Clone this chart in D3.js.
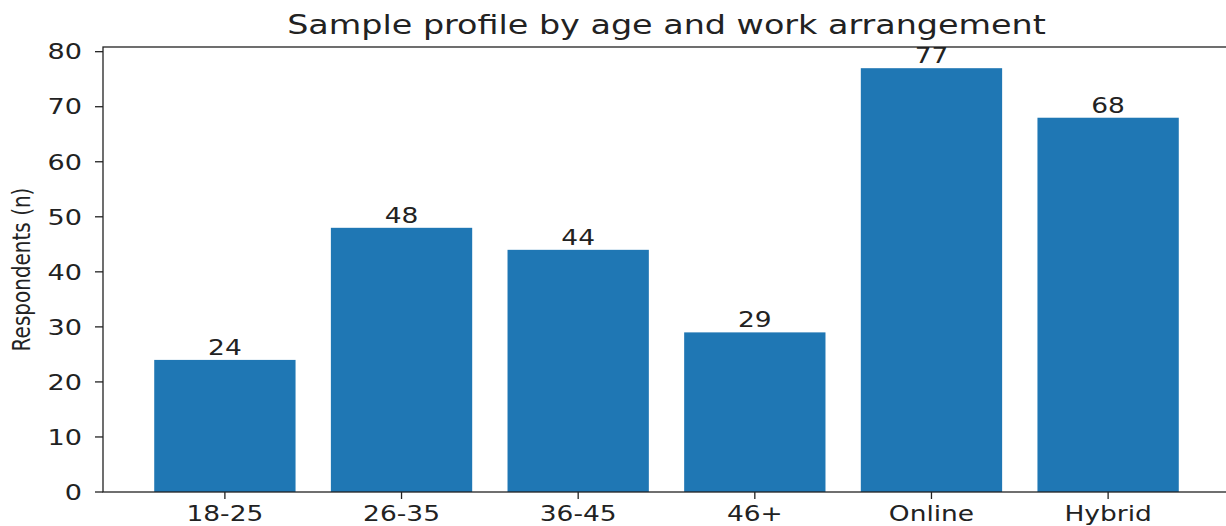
<!DOCTYPE html>
<html>
<head>
<meta charset="utf-8">
<script src="https://cdn.jsdelivr.net/npm/d3@7"></script>
<style>
  body { margin: 0; background: #fff; }
  svg { display: block; }
  text { font-family: "DejaVu Sans", sans-serif; fill: #222; }
</style>
</head>
<body>
<script>
// data
var categories = ["18-25", "26-35", "36-45", "46+", "Online", "Hybrid"];
var counts = [24, 48, 44, 29, 77, 68];
var yTicks = [0, 10, 20, 30, 40, 50, 60, 70, 80];
var title = "Sample profile by age and work arrangement";
var yLabel = "Respondents (n)";

function init() {
    var w = 1226;
    var h = 526;
    var sx = 1.26; // the picture is stretched sideways
    var left = 103, right = 1230, top = 47, bottom = 492;

    var svg = d3.select("body")
        .append("svg")
        .attr("width", w)
        .attr("height", h);

    var x = d3.scaleBand()
        .domain(categories)
        .range([left, right])
        .paddingInner(0.2)
        .paddingOuter(0.29);

    var y = d3.scaleLinear()
        .domain([0, d3.max(counts) * 1.05])
        .range([bottom, top]);

    // bars
    svg.selectAll("rect.bar")
        .data(counts)
        .enter()
        .append("rect")
        .attr("class", "bar")
        .attr("x", (d, i) => x(categories[i]))
        .attr("width", x.bandwidth())
        .attr("y", d => y(d))
        .attr("height", d => y(0) - y(d))
        .attr("fill", "#1f77b4");

    // value labels
    svg.selectAll("text.val")
        .data(counts)
        .enter()
        .append("text")
        .attr("class", "val")
        .attr("text-anchor", "middle")
        .attr("font-size", 21)
        .attr("transform", (d, i) => "translate(" + (x(categories[i]) + x.bandwidth() / 2) + "," + (y(d) - 5) + ") scale(" + sx + ",1)")
        .text(d => d);

    // spines
    svg.append("rect")
        .attr("x", left)
        .attr("y", top)
        .attr("width", right - left)
        .attr("height", bottom - top)
        .attr("fill", "none")
        .attr("stroke", "#222")
        .attr("stroke-width", 1.3);

    // y axis ticks
    var yt = svg.selectAll("g.ytick")
        .data(yTicks)
        .enter()
        .append("g")
        .attr("class", "ytick")
        .attr("transform", d => "translate(" + left + "," + y(d) + ")");
    yt.append("line")
        .attr("x1", -8)
        .attr("x2", 0)
        .attr("stroke", "#222")
        .attr("stroke-width", 1.3);
    yt.append("text")
        .attr("text-anchor", "end")
        .attr("font-size", 21.5)
        .attr("dy", "0.36em")
        .attr("transform", "translate(-21,0) scale(" + sx + ",1)")
        .text(d => d);

    // x axis ticks
    var xt = svg.selectAll("g.xtick")
        .data(categories)
        .enter()
        .append("g")
        .attr("class", "xtick")
        .attr("transform", d => "translate(" + (x(d) + x.bandwidth() / 2) + "," + bottom + ")");
    xt.append("line")
        .attr("y1", 0)
        .attr("y2", 7)
        .attr("stroke", "#222")
        .attr("stroke-width", 1.3);
    xt.append("text")
        .attr("text-anchor", "middle")
        .attr("font-size", 21)
        .attr("transform", "translate(0,29) scale(" + sx + ",1)")
        .text(d => d);

    // y label
    svg.append("text")
        .attr("text-anchor", "middle")
        .attr("font-size", 20)
        .attr("transform", "translate(30," + ((top + bottom) / 2) + ") scale(" + sx + ",1) rotate(-90)")
        .text(yLabel);

    // title
    svg.append("text")
        .attr("text-anchor", "middle")
        .attr("font-size", 26.5)
        .attr("transform", "translate(" + ((left + right) / 2) + ",34) scale(" + sx + ",1)")
        .text(title);
}
window.onload = init;
</script>
</body>
</html>
